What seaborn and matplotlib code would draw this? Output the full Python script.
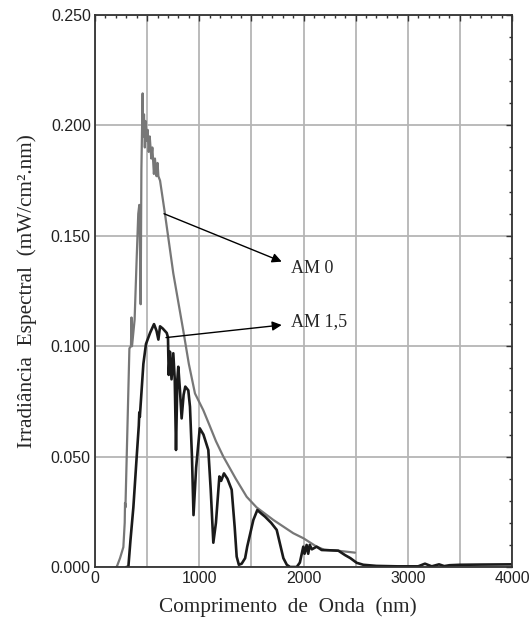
import numpy as np
import pandas as pd
import matplotlib
matplotlib.use("Agg")
import matplotlib.pyplot as plt
import seaborn as sns
from matplotlib.ticker import MultipleLocator, FuncFormatter

# AM 0 spectrum (nm, mW/cm².nm)
am0_wl = [200, 208, 240, 272, 285, 288, 292, 310, 330, 345, 350, 355, 380, 400, 415, 425,
          430, 438, 445, 457, 462, 470, 478, 485, 495, 505, 515, 525, 540, 550, 565, 575,
          590, 600, 608, 624, 671, 751, 847, 900, 959, 1039, 1100, 1160, 1231, 1350, 1455,
          1550, 1711, 1902, 2000, 2126, 2200, 2300, 2400, 2494]
am0_val = [0.0, 0.0, 0.004, 0.009, 0.020, 0.029, 0.027, 0.061, 0.099, 0.100, 0.113, 0.100,
           0.112, 0.140, 0.160, 0.164, 0.150, 0.119, 0.180, 0.2145, 0.195, 0.205, 0.190,
           0.202, 0.193, 0.198, 0.188, 0.195, 0.185, 0.190, 0.178, 0.185, 0.177, 0.183,
           0.177, 0.175, 0.160, 0.133, 0.107, 0.092, 0.0786, 0.071, 0.064, 0.057, 0.050, 0.040,
           0.0318, 0.027, 0.0213, 0.0153, 0.013, 0.0092, 0.0078, 0.0075, 0.007, 0.0065]

# AM 1,5 spectrum
am15_wl = [300, 320, 340, 368, 400, 420, 425, 430, 464, 489, 528, 566, 590, 608, 624, 650,
           688, 700, 707, 719, 734, 751, 765, 777, 790, 799, 815, 831, 850, 866, 895, 911,
           930, 945, 970, 1005, 1040, 1087, 1110, 1135, 1160, 1193, 1210, 1237, 1270, 1311,
           1340, 1359, 1380, 1407, 1440, 1460, 1519, 1557, 1600, 1631, 1690, 1743, 1807,
           1840, 1871, 1935, 1965, 1998, 2010, 2030, 2045, 2060, 2080, 2126, 2174, 2334,
           2398, 2450, 2510, 2574, 2700, 2900, 3100, 3165, 3230, 3300, 3350, 3400, 3500,
           3700, 4000]
am15_val = [0.0, 0.0, 0.012, 0.027, 0.050, 0.064, 0.070, 0.068, 0.092, 0.101, 0.106, 0.110,
            0.107, 0.103, 0.109, 0.108, 0.106, 0.104, 0.087, 0.0975, 0.085, 0.0968, 0.085,
            0.053, 0.085, 0.0907, 0.080, 0.0673, 0.078, 0.0817, 0.080, 0.0726, 0.050, 0.0235,
            0.045, 0.0628, 0.060, 0.053, 0.035, 0.011, 0.020, 0.041, 0.039, 0.0424, 0.040,
            0.035, 0.018, 0.0047, 0.001, 0.0015, 0.004, 0.0092, 0.0213, 0.0258, 0.024, 0.0228,
            0.020, 0.0168, 0.004, 0.001, 0.0, 0.0, 0.002, 0.0092, 0.006, 0.010, 0.006,
            0.010, 0.008, 0.0092, 0.0077, 0.0074, 0.0054, 0.004, 0.0019, 0.001, 0.0005,
            0.0003, 0.0003, 0.0015, 0.0003, 0.0012, 0.0004, 0.0008, 0.001, 0.0011, 0.0012]

x_ticks = [0, 1000, 2000, 3000, 4000]
y_ticks = [0.000, 0.050, 0.100, 0.150, 0.200, 0.250]

df0 = pd.DataFrame({"wl": am0_wl, "irr": am0_val})
df15 = pd.DataFrame({"wl": am15_wl, "irr": am15_val})

sns.set_style("white")
fig = plt.figure(figsize=(5.31, 6.29), dpi=100)
ax = fig.add_axes([95/531, 62/629, 417/531, 552/629])

sns.lineplot(data=df0, x="wl", y="irr", ax=ax, color="#777777", lw=1.6, sort=False)
sns.lineplot(data=df15, x="wl", y="irr", ax=ax, color="#1a1a1a", lw=1.9, sort=False)

ax.set_xlim(0, 4000)
ax.set_ylim(0, 0.25)
ax.xaxis.set_major_locator(MultipleLocator(500))
ax.xaxis.set_minor_locator(MultipleLocator(100))
ax.yaxis.set_major_locator(MultipleLocator(0.05))
ax.yaxis.set_minor_locator(MultipleLocator(0.01))
ax.xaxis.set_major_formatter(FuncFormatter(lambda v, p: f"{int(v)}" if int(round(v)) in x_ticks else ""))
ax.yaxis.set_major_formatter(FuncFormatter(lambda v, p: f"{v:.3f}"))
ax.grid(True, which="major", color="#b5b5b5", lw=1.3)
ax.set_axisbelow(True)
ax.tick_params(which="both", direction="in", top=True, right=True, colors="#333333",
               labelcolor="#222222")
ax.tick_params(which="major", length=4, width=1.0, labelsize=11.5, pad=3)
ax.tick_params(which="minor", length=2.5, width=1.0)
for lab in ax.get_xticklabels() + ax.get_yticklabels():
    lab.set_family(["Liberation Sans", "DejaVu Sans"])
for s in ax.spines.values():
    s.set_color("#333333")
    s.set_linewidth(1.3)

ax.set_xlabel("Comprimento  de  Onda  (nm)", fontsize=15.3,
              family=["Liberation Serif", "DejaVu Serif"])
ax.xaxis.set_label_coords(0.462, -0.055)
ax.set_ylabel("Irradiância  Espectral  (mW/cm².nm)", fontsize=15.3,
              family=["Liberation Serif", "DejaVu Serif"], labelpad=10)

arrow = dict(arrowstyle="-|>", color="black", lw=1.0, mutation_scale=14, shrinkA=0, shrinkB=0)
ax.annotate("", xy=(1791, 0.1383), xytext=(662, 0.160), arrowprops=arrow)
ax.annotate("", xy=(1791, 0.1096), xytext=(681, 0.1039), arrowprops=arrow)
ax.text(1880, 0.1354, "AM 0", fontsize=13, va="center", ha="left",
        family=["Liberation Serif", "DejaVu Serif"])
ax.text(1880, 0.1110, "AM 1,5", fontsize=13, va="center", ha="left",
        family=["Liberation Serif", "DejaVu Serif"])

fig.savefig("out.png", dpi=100)
